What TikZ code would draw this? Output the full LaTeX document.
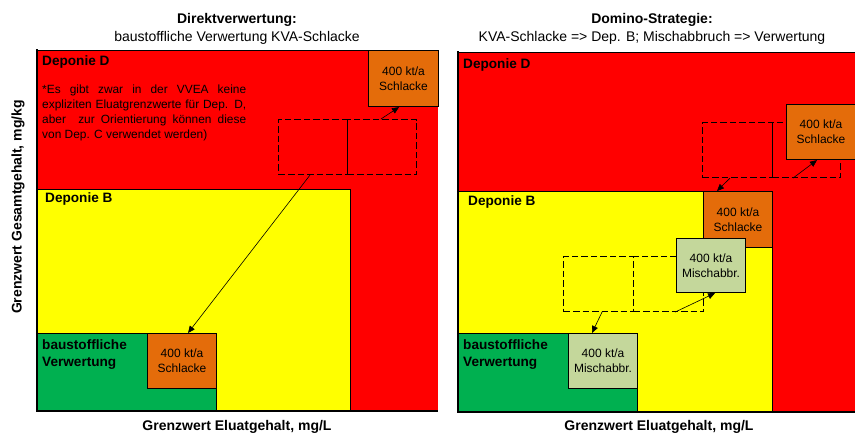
\documentclass[tikz,border=0pt]{standalone}
\usepackage{fontspec}
\setmainfont{Liberation Sans}
\usetikzlibrary{arrows.meta,calc}
\definecolor{cred}{HTML}{FF0000}
\definecolor{cyel}{HTML}{FFFF00}
\definecolor{cgrn}{HTML}{00B050}
\definecolor{corg}{HTML}{E46C0A}
\definecolor{cmix}{HTML}{C4D79B}
\tikzset{
  zone/.style={draw=black, line width=0.8pt},
  boxbase/.style={draw=black, line width=1.1pt, align=center, inner sep=0pt, anchor=north west,
    font=\fontsize{12}{15}\selectfont},
  obox/.style={boxbase, fill=corg},
  mbox/.style={boxbase, fill=cmix},
  dbox/.style={draw=black, dash pattern=on 6.5pt off 3pt, line width=1.1pt, inner sep=0pt, anchor=north west},
  arr/.style={-{Triangle[length=7pt,width=6pt]}, line width=0.6pt},
  zlbl/.style={font=\bfseries\fontsize{13.6}{17}\selectfont, anchor=west, inner sep=0pt, align=left},
  ttl/.style={font=\bfseries\fontsize{14}{16}\selectfont, inner sep=0pt},
  sub/.style={font=\fontsize{14}{16}\selectfont, inner sep=0pt},
  axl/.style={font=\bfseries\fontsize{14}{16}\selectfont, inner sep=0pt},
  axis/.style={line width=2pt}
}
\begin{document}
\begin{tikzpicture}[x=1pt,y=-1pt]
\useasboundingbox (0,0) rectangle (855,434);
% ---------- left panel ----------
\fill[cred] (37,50) rectangle (438,411);
\draw[line width=0.8pt] (37,50) -- (438,50);
\filldraw[fill=cyel, zone] (37,189) rectangle (350,411);
\filldraw[fill=cgrn, zone] (37,333) rectangle (216,411);
\draw[axis] (37,49) -- (37,411) -- (438,411);
\node[zlbl] (ldD) at (42,62) {Deponie D};
\node[anchor=north west, inner sep=0pt, font=\fontsize{11.9}{15}\selectfont, align=left] (note) at (42,84.5)
 {\makebox[204pt][s]{*Es gibt zwar in der VVEA keine}\\
  \makebox[204pt][s]{expliziten Eluatgrenzwerte für Dep. D,}\\
  \makebox[204pt][s]{aber \ zur Orientierung können diese}\\
  von Dep. C verwendet werden)};
\node[zlbl] (ldB) at (45,199) {Deponie B};
\node[zlbl, anchor=north west] (lgr) at (42,339) {baustoffliche\\Verwertung};
\node[obox, minimum width=69pt, minimum height=55pt] (ls1) at (147,333) {400 kt/a\\Schlacke};
\node[obox, minimum width=70pt, minimum height=56pt] (ls0) at (368,50) {400 kt/a\\Schlacke};
\node[dbox, minimum width=69pt, minimum height=55pt] (lda) at (278,119) {};
\node[dbox, minimum width=69pt, minimum height=55pt] (ldb) at (347,119) {};
\coordinate (la1) at ($(lda.south west)+(32,0)$);
\coordinate (la2) at ($(ls1.north west)+(41,0)$);
\draw[arr] (la1) -- (la2);
\coordinate (lb1) at ($(ldb.north west)+(34,0)$);
\coordinate (lb2) at ($(ls0.south west)+(31,0)$);
\draw[arr] (lb1) -- (lb2);
\node[ttl] (lt1) at (237,20) {Direktverwertung:};
\node[sub] (lt2) at (237,37.5) {baustoffliche Verwertung KVA-Schlacke};
\node[axl] (lx) at (237,427) {Grenzwert Eluatgehalt, mg/L};
\node[axl, rotate=90] (ly) at (18,207) {Grenzwert Gesamtgehalt, mg/kg};
% ---------- right panel ----------
\fill[cred] (458,52) rectangle (856,412);
\draw[line width=0.8pt] (458,52) -- (856,52);
\filldraw[fill=cyel, zone] (458,191) rectangle (772,412);
\filldraw[fill=cgrn, zone] (458,333) rectangle (637,412);
\draw[axis] (458,51) -- (458,412) -- (856,412);
\node[zlbl] (rdD) at (463,65) {Deponie D};
\node[zlbl] (rdB) at (468,202) {Deponie B};
\node[zlbl, anchor=north west] (rgr) at (463,339) {baustoffliche\\Verwertung};
\node[dbox, minimum width=70pt, minimum height=55pt] (rua) at (702,122) {};
\node[dbox, minimum width=68pt, minimum height=55pt] (rub) at (772,122) {};
\node[dbox, minimum width=70pt, minimum height=55pt] (rla) at (563,256) {};
\node[dbox, minimum width=70pt, minimum height=55pt] (rlb) at (633,256) {};
\node[obox, minimum width=69pt, minimum height=55pt] (rs2) at (786,104) {400 kt/a\\Schlacke};
\node[obox, minimum width=69pt, minimum height=56pt] (rs3) at (703,191) {400 kt/a\\Schlacke};
\node[mbox, minimum width=69pt, minimum height=54pt] (rm1) at (676,238) {400 kt/a\\Mischabbr.};
\node[mbox, minimum width=69pt, minimum height=55pt] (rm2) at (568,333) {400 kt/a\\Mischabbr.};
\coordinate (ra1) at ($(rua.south west)+(28,0)$);
\coordinate (ra2) at ($(rs3.north west)+(14,0)$);
\draw[arr] (ra1) -- (ra2);
\coordinate (rb1) at ($(rub.south west)+(21,0)$);
\coordinate (rb2) at ($(rs2.south west)+(31,0)$);
\draw[arr] (rb1) -- (rb2);
\coordinate (rc1) at ($(rlb.south west)+(42,0)$);
\coordinate (rc2) at ($(rm1.south west)+(39,0)$);
\draw[arr] (rc1) -- (rc2);
\coordinate (rd1) at ($(rla.south west)+(39,0)$);
\coordinate (rd2) at ($(rm2.north west)+(24,0)$);
\draw[arr] (rd1) -- (rd2);
\node[ttl] (rt1) at (652,20) {Domino-Strategie:};
\node[sub] (rt2) at (652,37.5) {KVA-Schlacke => Dep. B; Mischabbruch => Verwertung};
\node[axl] (rx) at (659,427) {Grenzwert Eluatgehalt, mg/L};
\end{tikzpicture}
\end{document}
